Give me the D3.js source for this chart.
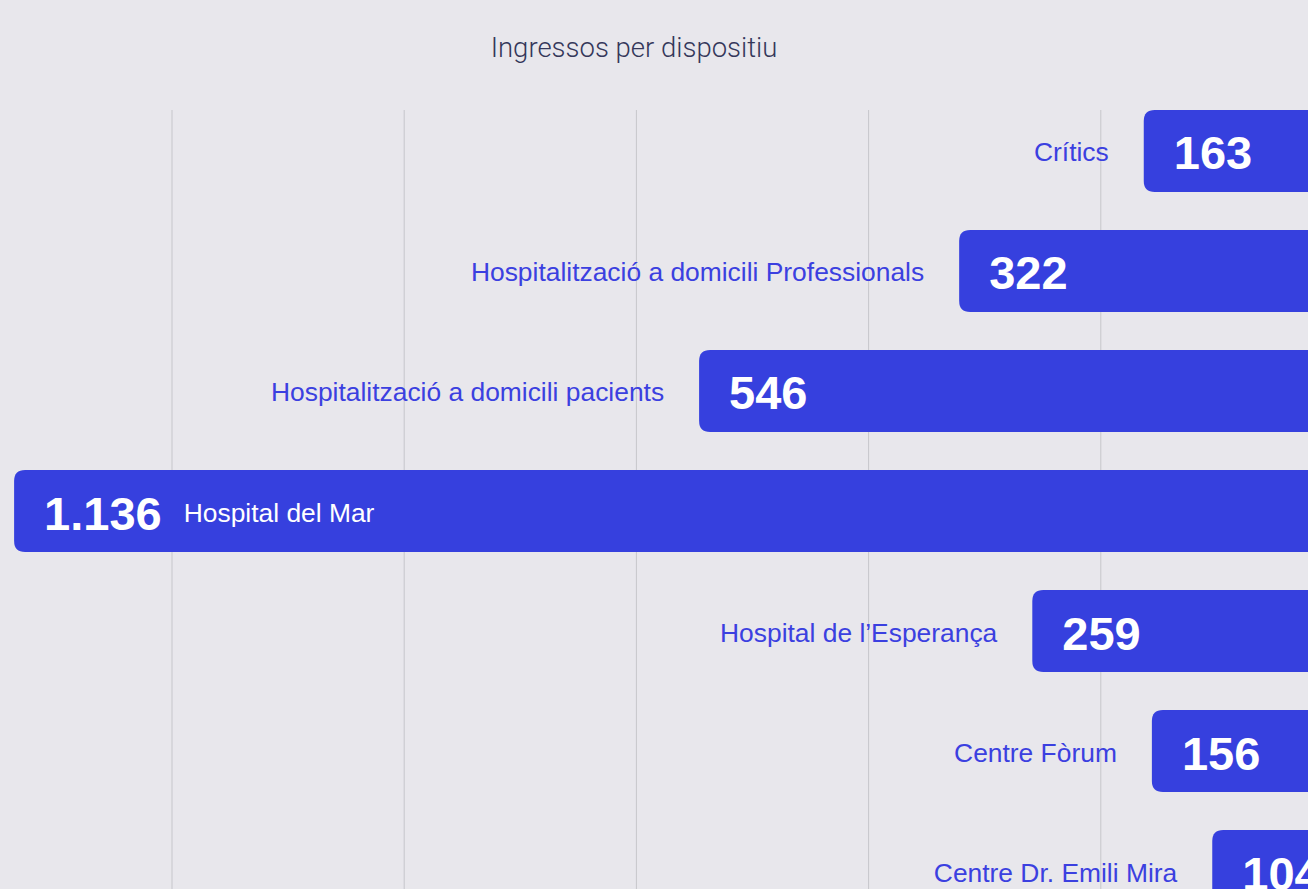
<!DOCTYPE html>
<html>
<head>
<meta charset="utf-8">
<script src="https://cdn.jsdelivr.net/npm/d3@7"></script>
<style>
  html, body { margin: 0; padding: 0; background: #e8e7ec; overflow: hidden; }
  svg { display: block; }
</style>
</head>
<body>
<svg id="chart" width="1308" height="889"></svg>
<script>
const title = "Ingressos per dispositiu";
const categories = [
  "Crítics",
  "Hospitalització a domicili Professionals",
  "Hospitalització a domicili pacients",
  "Hospital del Mar",
  "Hospital de l’Esperança",
  "Centre Fòrum",
  "Centre Dr. Emili Mira"
];
const values = [163, 322, 546, 1136, 259, 156, 104];
const valueLabels = ["163", "322", "546", "1.136", "259", "156", "104"];
const gridValues = [200, 400, 600, 800, 1000];

const W = 1308, H = 889;
const svg = d3.select("#chart");
const data = categories.map((c, i) => ({ cat: c, v: values[i], lab: valueLabels[i] }));

const x = d3.scaleLinear().domain([0, 1200]).range([1333, 1333 - 1200 * 1.161]);
const y = d3.scaleBand().domain(categories).range([110, 912]).paddingInner(0.3167).paddingOuter(0);

svg.append("rect").attr("width", W).attr("height", H).attr("fill", "#e8e7ec");

svg.append("text")
  .attr("x", 634).attr("y", 57)
  .attr("text-anchor", "middle")
  .attr("font-family", "Roboto, 'Liberation Sans', Arial, sans-serif")
  .attr("font-weight", 300)
  .attr("font-size", 27.5)
  .attr("fill", "#34375a")
  .text(title);

svg.append("g").selectAll("line").data(gridValues).join("line")
  .attr("x1", d => x(d)).attr("x2", d => x(d))
  .attr("y1", 110).attr("y2", H)
  .attr("stroke", "#c6c6cb").attr("stroke-width", 1);

const r = 11;
const bars = svg.append("g");
bars.selectAll("path").data(data).join("path")
  .attr("fill", "#3640de")
  .attr("d", d => {
    const x0 = x(d.v), x1 = W + 20, y0 = y(d.cat), h = y.bandwidth();
    return `M${x1},${y0} L${x0 + r},${y0} Q${x0},${y0} ${x0},${y0 + r} L${x0},${y0 + h - r} Q${x0},${y0 + h} ${x0 + r},${y0 + h} L${x1},${y0 + h} Z`;
  });

const labelsG = svg.append("g");
data.forEach(d => {
  const cy = y(d.cat) + y.bandwidth() / 2;
  const bx = x(d.v);
  const vt = labelsG.append("text")
    .attr("x", bx + 30).attr("y", cy + 18.5)
    .attr("font-family", "'Liberation Sans', Arial, sans-serif")
    .attr("font-weight", 700)
    .attr("font-size", 47)
    .attr("fill", "#ffffff")
    .text(d.lab);
  const lt = labelsG.append("text")
    .attr("y", cy + 10.5)
    .attr("font-family", "'Liberation Sans', Arial, sans-serif")
    .attr("font-size", 26.4)
    .text(d.cat);
  const lw = lt.node().getComputedTextLength();
  if (bx - 35 - lw < 0) {
    const vw = vt.node().getComputedTextLength();
    lt.attr("x", bx + 30 + vw + 22).attr("text-anchor", "start").attr("fill", "#ffffff");
  } else {
    lt.attr("x", bx - 35).attr("text-anchor", "end").attr("fill", "#3b40e0");
  }
});
</script>
</body>
</html>
